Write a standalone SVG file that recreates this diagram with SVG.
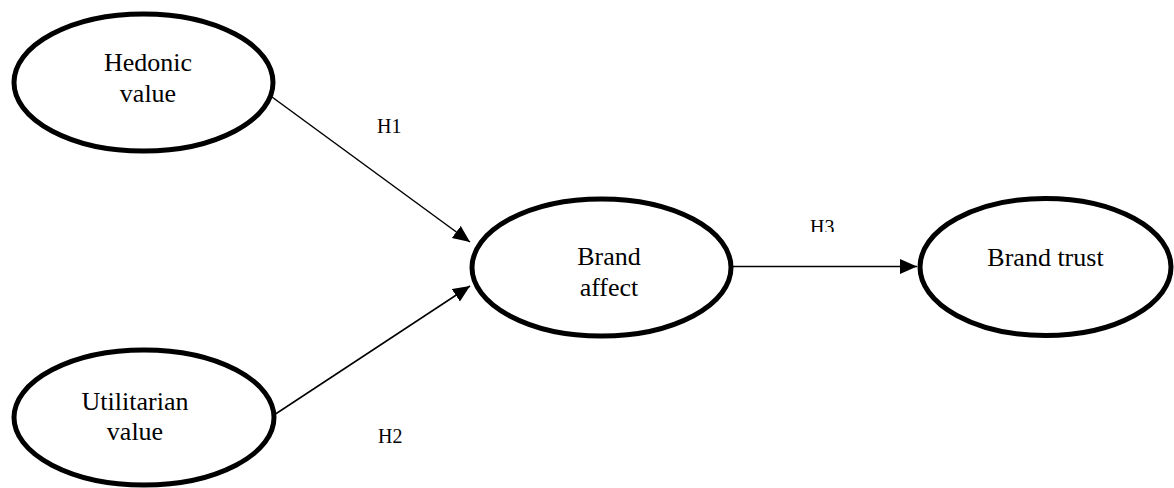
<svg xmlns="http://www.w3.org/2000/svg" width="1174" height="488" viewBox="0 0 1174 488">
  <style>
    .node ellipse { fill: #ffffff; stroke: #000000; stroke-width: 5; }
    .node text { font-family: "Liberation Serif", "Times New Roman", serif; font-size: 26px; fill: #000000; text-anchor: middle; }
    .edge line { stroke: #000000; stroke-width: 1.5; }
    .label { font-family: "Liberation Serif", "Times New Roman", serif; font-size: 20px; fill: #000000; }
  </style>
  <defs>
    <marker id="arrow" markerUnits="userSpaceOnUse" markerWidth="18" markerHeight="16" refX="17" refY="7.5" orient="auto">
      <path d="M0,0 L17,7.5 L0,15 z" fill="#000000"/>
    </marker>
    <clipPath id="h3clip">
      <rect x="790" y="200" width="70" height="32"/>
    </clipPath>
  </defs>
  <rect width="1174" height="488" fill="#ffffff"/>

  <g id="connectors">
    <g class="edge" id="edge-h1">
      <line x1="272" y1="97" x2="470" y2="242" marker-end="url(#arrow)"/>
    </g>
    <g class="edge" id="edge-h2">
      <line x1="274" y1="415" x2="470" y2="286" marker-end="url(#arrow)"/>
    </g>
    <g class="edge" id="edge-h3">
      <line x1="733" y1="266.5" x2="917" y2="266.5" marker-end="url(#arrow)"/>
    </g>
    <text class="label" x="377" y="133">H1</text>
    <text class="label" x="378" y="443">H2</text>
    <text class="label" x="810" y="234" clip-path="url(#h3clip)">H3</text>
  </g>

  <g class="node" id="node-hedonic">
    <ellipse cx="143.5" cy="82.5" rx="129.5" ry="68.5"/>
    <text x="148" y="71">Hedonic</text>
    <text x="148" y="102">value</text>
  </g>

  <g class="node" id="node-utilitarian">
    <ellipse cx="144" cy="417.5" rx="130" ry="67.5"/>
    <text x="135" y="410">Utilitarian</text>
    <text x="135" y="440">value</text>
  </g>

  <g class="node" id="node-brand-affect">
    <ellipse cx="601.5" cy="267.5" rx="129.5" ry="68.5"/>
    <text x="609" y="265">Brand</text>
    <text x="609" y="296">affect</text>
  </g>

  <g class="node" id="node-brand-trust">
    <ellipse cx="1045.5" cy="267" rx="125.5" ry="68.5"/>
    <text x="1045.5" y="266">Brand trust</text>
  </g>
</svg>
